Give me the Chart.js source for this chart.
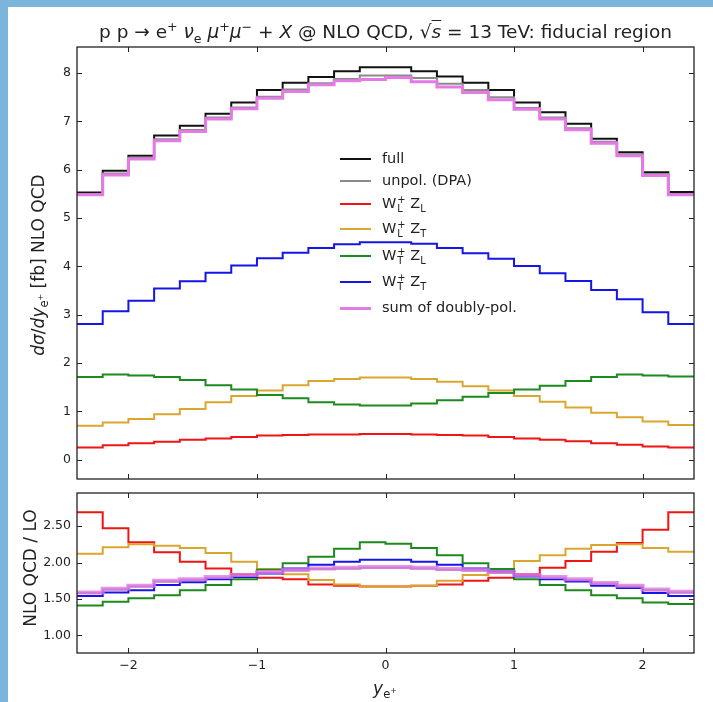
<!DOCTYPE html>
<html><head><meta charset="utf-8">
<script src="https://cdn.jsdelivr.net/npm/chart.js@4.4.1/dist/chart.umd.min.js"></script>
<style>
html,body{margin:0;padding:0;}
body{width:713px;height:702px;background:#7cb5dc;position:relative;overflow:hidden;font-family:"DejaVu Sans",sans-serif;color:#222;}
#sheet{position:absolute;left:8px;top:7px;width:705px;height:695px;background:#fff;}
canvas{position:absolute;left:0;top:0;}
.t{position:absolute;white-space:nowrap;line-height:1;}
#title{left:0;width:771px;text-align:center;top:23px;font-size:18.5px;}
#ylab1{left:38px;top:265px;transform:translate(-50%,-50%) rotate(-90deg);font-size:17px;}
#ylab2{left:30px;top:568px;transform:translate(-50%,-50%) rotate(-90deg);font-size:17px;}
#xlab{left:385px;top:688px;transform:translate(-50%,-50%);font-size:17px;}
.leg{position:absolute;left:340px;font-size:14.5px;}
.leg .ln{position:absolute;left:0;width:31px;top:0;}
.leg .tx{position:absolute;left:42px;top:0;transform:translateY(-50%);white-space:nowrap;line-height:1.2;}
.ss{display:inline-flex;flex-direction:column;font-size:0.68em;line-height:0.95;vertical-align:0.55em;margin-left:1px;}
sub,sup{font-size:0.68em;line-height:0;}
.ol{text-decoration:overline;}
</style></head><body>
<div id="sheet"></div>
<canvas id="c1" width="713" height="702"></canvas>
<canvas id="c2" width="713" height="702"></canvas>
<div class="t" id="title">p p → e<sup>+</sup> <i>ν</i><sub>e</sub> <i>μ</i><sup>+</sup><i>μ</i><sup>−</sup> + <i>X</i> @ NLO QCD, √<span class="ol"><i>s</i></span> = 13 TeV: fiducial region</div>
<div class="t" id="ylab1"><i>dσ</i>/<i>dy</i><sub>e<sup>+</sup></sub> [fb] NLO QCD</div>
<div class="t" id="ylab2">NLO QCD / LO</div>
<div class="t" id="xlab"><i>y</i><sub>e<sup>+</sup></sub></div>
<div id="legend"></div>
<script>
// ---------- data ----------
const binEdges = [-2.4,-2.2,-2.0,-1.8,-1.6,-1.4,-1.2,-1.0,-0.8,-0.6,-0.4,-0.2,0,0.2,0.4,0.6,0.8,1.0,1.2,1.4,1.6,1.8,2.0,2.2,2.4];
const xTicks = [-2,-1,0,1,2];
const yTicksMain = [0,1,2,3,4,5,6,7,8];
const yTicksRatio = [1.0,1.5,2.0,2.5];

// top panel: d sigma / d y [fb]
const full  = [5.53,5.98,6.29,6.71,6.91,7.16,7.39,7.65,7.80,7.92,8.04,8.12, 8.12,8.04,7.93,7.80,7.65,7.39,7.19,6.95,6.64,6.36,5.95,5.54];
const unpol = [5.50,5.92,6.25,6.63,6.82,7.08,7.29,7.51,7.66,7.79,7.88,7.95, 7.95,7.90,7.78,7.65,7.50,7.28,7.08,6.86,6.58,6.32,5.91,5.50];
const LL    = [0.25,0.30,0.34,0.37,0.41,0.44,0.47,0.50,0.51,0.52,0.52,0.53, 0.53,0.52,0.51,0.50,0.47,0.44,0.41,0.38,0.34,0.31,0.27,0.25];
const LT    = [0.70,0.77,0.84,0.94,1.05,1.19,1.32,1.43,1.54,1.63,1.67,1.70, 1.70,1.67,1.61,1.52,1.43,1.32,1.20,1.08,0.97,0.88,0.79,0.72];
const TL    = [1.71,1.76,1.74,1.71,1.65,1.54,1.45,1.34,1.27,1.19,1.14,1.12, 1.12,1.16,1.23,1.30,1.38,1.45,1.53,1.63,1.71,1.76,1.74,1.72];
const TT    = [2.81,3.07,3.29,3.54,3.69,3.87,4.02,4.17,4.28,4.38,4.46,4.50, 4.50,4.47,4.38,4.27,4.16,4.01,3.86,3.70,3.51,3.32,3.05,2.81];
const sumPol= [5.48,5.89,6.22,6.60,6.79,7.05,7.26,7.48,7.62,7.76,7.84,7.87, 7.91,7.82,7.71,7.60,7.45,7.25,7.05,6.83,6.55,6.29,5.88,5.48];

// bottom panel: NLO QCD / LO
const rUnpol = [1.58,1.63,1.67,1.74,1.76,1.79,1.82,1.86,1.89,1.91,1.92,1.93, 1.93,1.92,1.90,1.89,1.86,1.82,1.79,1.76,1.71,1.67,1.62,1.59];
const rLL    = [2.69,2.47,2.28,2.14,2.01,1.92,1.84,1.79,1.77,1.70,1.68,1.67, 1.67,1.68,1.70,1.75,1.79,1.84,1.93,2.02,2.15,2.27,2.45,2.69];
const rLT    = [2.12,2.21,2.25,2.23,2.20,2.13,2.01,1.91,1.84,1.76,1.70,1.67, 1.67,1.68,1.75,1.83,1.91,2.02,2.10,2.19,2.24,2.25,2.20,2.15];
const rTL    = [1.41,1.46,1.51,1.55,1.62,1.69,1.77,1.90,1.99,2.08,2.19,2.28, 2.26,2.20,2.10,1.99,1.91,1.77,1.69,1.62,1.55,1.51,1.45,1.43];
const rTT    = [1.54,1.59,1.62,1.69,1.73,1.77,1.80,1.85,1.92,1.97,2.01,2.04, 2.04,2.01,1.97,1.92,1.88,1.81,1.77,1.74,1.68,1.65,1.58,1.54];
const rSum   = [1.59,1.64,1.68,1.75,1.77,1.80,1.83,1.87,1.90,1.92,1.93,1.94, 1.94,1.93,1.91,1.90,1.87,1.83,1.80,1.77,1.72,1.68,1.63,1.60];

const legendLabels = ['full','unpol. (DPA)','W<span class="ss"><span>+</span><span>L</span></span> Z<sub>L</sub>','W<span class="ss"><span>+</span><span>L</span></span> Z<sub>T</sub>','W<span class="ss"><span>+</span><span>T</span></span> Z<sub>L</sub>','W<span class="ss"><span>+</span><span>T</span></span> Z<sub>T</sub>','sum of doubly-pol.'];

// ---------- styles ----------
const C = {full:'#111111', unpol:'#8a8a8a', LL:'#f01414', LT:'#dba630', TL:'#1d8a1d', TT:'#1515e6', sum:'#e47ae4'};
const legendColors = [C.full,C.unpol,C.LL,C.LT,C.TL,C.TT,C.sum];
const legendRowsY = [159,181,204,229,256,282,308];
const FONT = 'DejaVu Sans';

function steps(vals){
  const pts = vals.map((v,i)=>({x:binEdges[i], y:v}));
  pts.push({x:binEdges[binEdges.length-1], y:vals[vals.length-1]});
  return pts;
}
function ds(vals,color,w){
  return {data:steps(vals), borderColor:color, borderWidth:w, stepped:true, pointRadius:0, fill:false, borderJoinStyle:'miter', borderCapStyle:'butt'};
}

const framePlugin = {
  id:'frame',
  afterDraw(chart){
    const {ctx, chartArea:a, scales} = chart;
    const L = 5;
    ctx.save();
    ctx.strokeStyle = '#222'; ctx.lineWidth = 1.3;
    ctx.strokeRect(a.left, a.top, a.right-a.left, a.bottom-a.top);
    ctx.lineWidth = 1;
    ctx.beginPath();
    scales.x.ticks.forEach(t=>{
      const px = Math.round(scales.x.getPixelForValue(t.value))+0.5;
      ctx.moveTo(px,a.bottom); ctx.lineTo(px,a.bottom-L);
      ctx.moveTo(px,a.top); ctx.lineTo(px,a.top+L);
    });
    scales.y.ticks.forEach(t=>{
      const py = Math.round(scales.y.getPixelForValue(t.value))+0.5;
      ctx.moveTo(a.left,py); ctx.lineTo(a.left+L,py);
      ctx.moveTo(a.right,py); ctx.lineTo(a.right-L,py);
    });
    ctx.stroke();
    ctx.restore();
  }
};

function minusFmt(v){ return v<0 ? '\u2212'+Math.abs(v) : String(v); }

function makeOptions(cfg){
  return {
    responsive:false, animation:false, devicePixelRatio:1,
    layout:{padding:cfg.padding},
    plugins:{legend:{display:false}, tooltip:{enabled:false}},
    scales:{
      x:{type:'linear', min:-2.4, max:2.4,
         afterBuildTicks:s=>{ s.ticks = xTicks.map(v=>({value:v})); },
         afterFit:s=>{ s.height = cfg.xHeight; },
         grid:{display:false, drawTicks:false}, border:{display:false},
         ticks:{display:cfg.xLabels, padding:5, autoSkip:false, maxRotation:0, color:'#222', font:{family:FONT,size:12.5}, callback:v=>minusFmt(v)}},
      y:{type:'linear', min:cfg.ymin, max:cfg.ymax,
         afterBuildTicks:s=>{ s.ticks = cfg.yTicks.map(v=>({value:v})); },
         afterFit:s=>{ s.width = 77; },
         grid:{display:false, drawTicks:false}, border:{display:false},
         ticks:{padding:6, autoSkip:false, color:'#222', font:{family:FONT,size:12.5}, callback:cfg.yFmt}}
    }
  };
}

new Chart(document.getElementById('c1'), {
  type:'line',
  data:{datasets:[
    ds(sumPol,C.sum,3), ds(TT,C.TT,2), ds(TL,C.TL,2), ds(LT,C.LT,2), ds(LL,C.LL,2), ds(unpol,C.unpol,2), ds(full,C.full,2)
  ]},
  options:makeOptions({padding:{top:47,bottom:223,left:0,right:19}, xLabels:false, xHeight:0, ymin:-0.4, ymax:8.54, yTicks:yTicksMain, yFmt:v=>String(v)}),
  plugins:[framePlugin]
});

new Chart(document.getElementById('c2'), {
  type:'line',
  data:{datasets:[
    ds(rSum,'rgba(222,120,230,0.8)',4), ds(rTT,C.TT,2), ds(rTL,C.TL,2), ds(rLT,C.LT,2), ds(rLL,C.LL,2), ds(rUnpol,C.unpol,2)
  ]},
  options:makeOptions({padding:{top:493,bottom:19,left:0,right:19}, xLabels:true, xHeight:30, ymin:0.757, ymax:2.956, yTicks:yTicksRatio, yFmt:v=>Number(v).toFixed(2)}),
  plugins:[framePlugin]
});

// legend (HTML text)
const lg = document.getElementById('legend');
legendLabels.forEach((lab,i)=>{
  const row = document.createElement('div');
  row.className='leg'; row.style.top = legendRowsY[i]+'px';
  const w = (i===6)?3:2;
  row.innerHTML = '<div class="ln" style="border-top:'+w+'px solid '+legendColors[i]+';margin-top:-'+(w/2)+'px"></div><div class="tx">'+lab+'</div>';
  lg.appendChild(row);
});
</script>
</body></html>
